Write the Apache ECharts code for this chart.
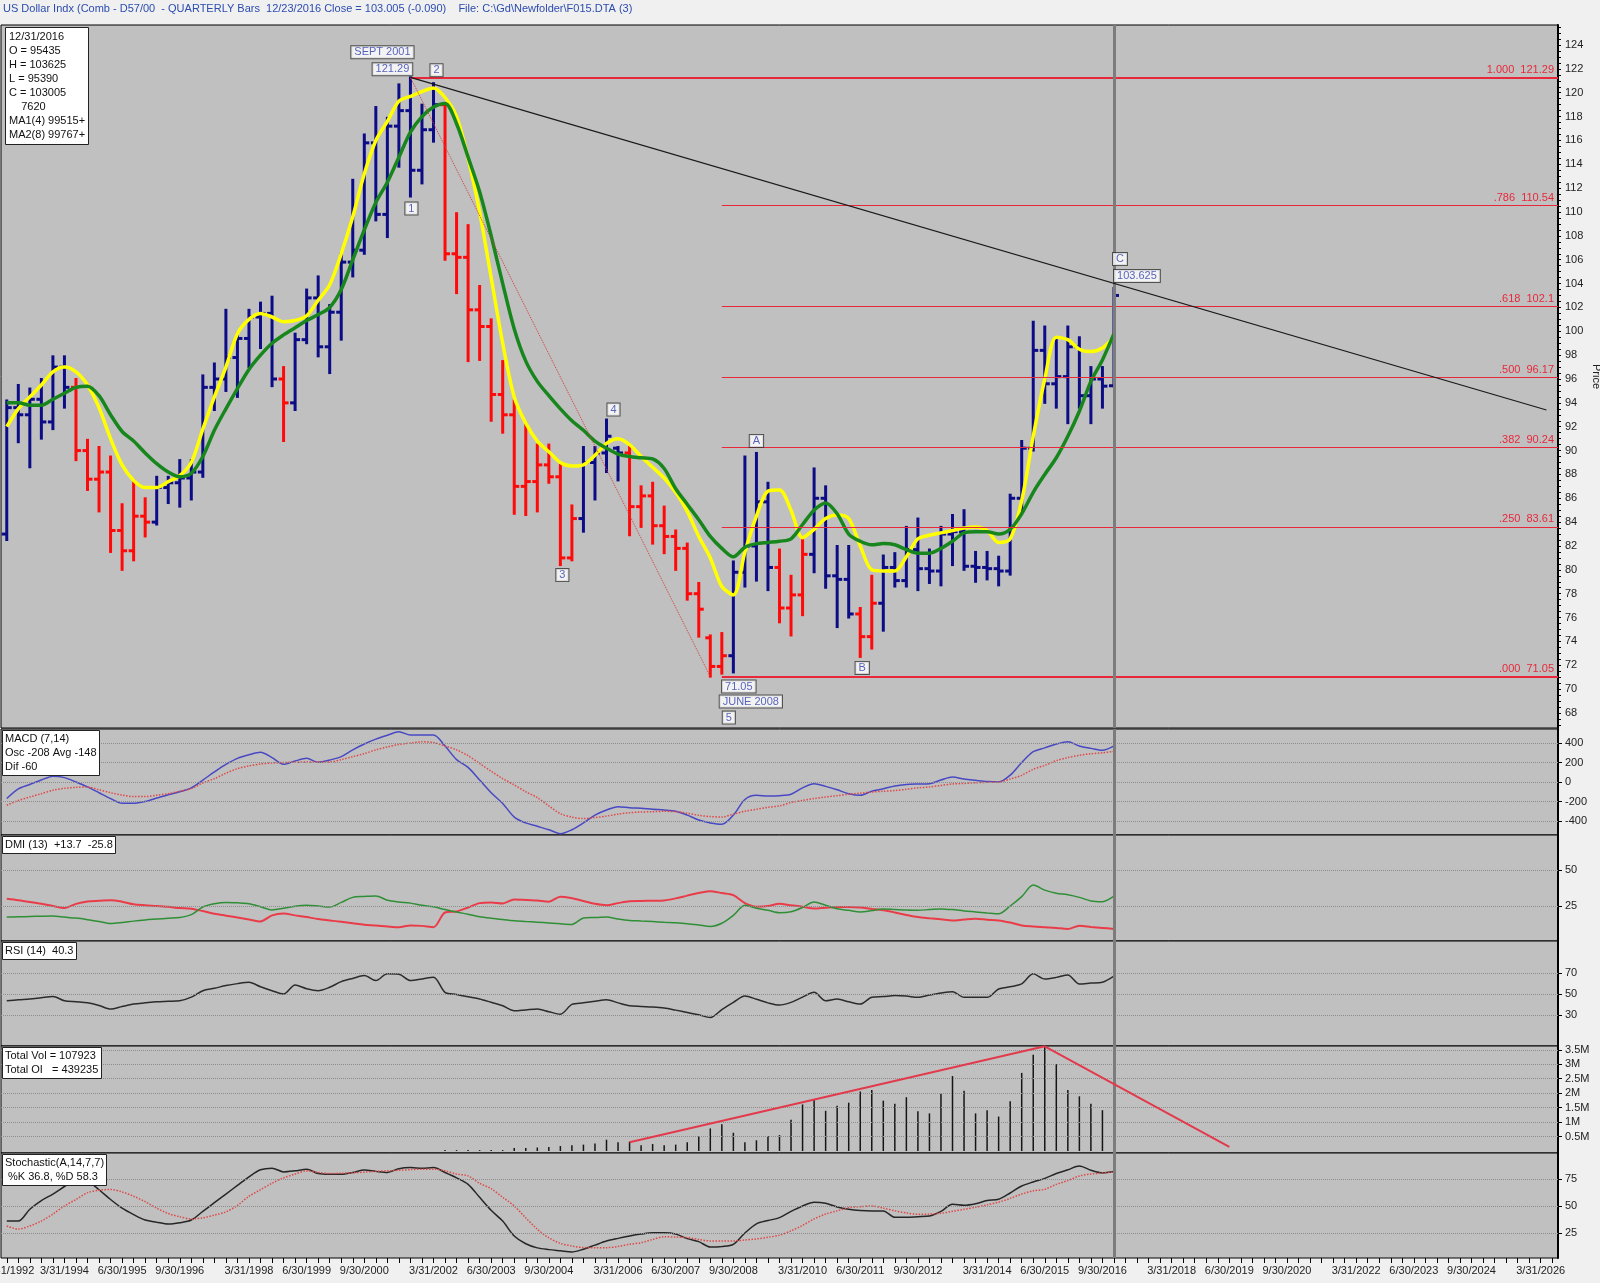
<!DOCTYPE html>
<html>
<head>
<meta charset="UTF-8">
<title>US Dollar Index - Quarterly Bars</title>
<script src="https://cdn.jsdelivr.net/npm/echarts@6.0.0/dist/echarts.min.js"></script>
<style>
  html, body { margin: 0; padding: 0; background: #f0f0f0; }
  #chart { width: 1600px; height: 1283px; }
</style>
</head>
<body>
<div id="chart"></div>
<script>
// quarter ends 12/31/1992 .. 6/30/2026 (axis domain)
var quarters = [];
(function () {
  var ends = ['3/31/', '6/30/', '9/30/', '12/31/'];
  for (var y = 1992; y <= 2026; y++) {
    for (var q = 0; q < 4; q++) {
      if (y === 1992 && q < 3) continue;
      if (y === 2026 && q > 1) continue;
      quarters.push(ends[q] + y);
    }
  }
})();

var xTickLabels = ['12/31/1992', '3/31/1994', '6/30/1995', '9/30/1996', '3/31/1998', '6/30/1999',
  '9/30/2000', '3/31/2002', '6/30/2003', '9/30/2004', '3/31/2006', '6/30/2007', '9/30/2008',
  '3/31/2010', '6/30/2011', '9/30/2012', '3/31/2014', '6/30/2015', '9/30/2016', '3/31/2018',
  '6/30/2019', '9/30/2020', '3/31/2022', '6/30/2023', '9/30/2024', '3/31/2026'];

// quarterly bars 12/31/1992 .. 12/31/2016
var opens = [
  83.0, 93.6, 93.0, 94.3, 92.4, 97.0, 95.3, 90.0, 87.6, 88.2,
  83.3, 81.6, 84.5, 84.0, 86.9, 87.3, 87.7, 88.2, 95.3, 96.0,
  97.8, 99.4, 101.2, 101.5, 96.0, 94.0, 99.3, 102.8, 98.7, 101.6,
  105.8, 106.8, 115.8, 109.8, 117.2, 118.5, 113.5, 116.9, 119.0, 106.5,
  106.2, 101.8, 100.4, 94.7, 93.0, 87.0, 87.4, 88.8, 87.8, 81.0,
  84.3, 89.0, 89.8, 90.2, 89.8, 85.3, 86.2, 83.7, 82.8, 81.8,
  78.0, 74.3, 71.9, 72.8, 79.8, 82.0, 85.7, 80.2, 76.8, 77.9,
  81.3, 86.0, 79.5, 79.2, 76.3, 74.4, 77.2, 80.2, 79.1, 81.7,
  80.1, 79.9, 83.0, 83.2, 80.3, 80.2, 80.1, 79.9, 86.0, 90.2,
  98.4, 95.6, 96.2, 98.7, 94.6, 96.0, 95.435];
var highs = [
  94.2, 95.5, 95.2, 96.0, 97.9, 97.9, 96.0, 90.9, 90.3, 89.5,
  85.5, 87.5, 86.0, 87.8, 87.8, 89.2, 89.2, 96.3, 97.3, 101.8,
  99.8, 101.8, 102.4, 102.9, 97.0, 99.8, 103.5, 104.6, 102.2, 106.5,
  112.7, 116.5, 118.8, 117.9, 120.7, 121.29, 119.0, 120.8, 119.1, 109.9,
  108.9, 103.8, 101.0, 97.5, 94.2, 92.3, 90.5, 90.5, 88.8, 85.4,
  90.3, 90.3, 92.6, 90.3, 90.3, 87.0, 87.3, 85.3, 83.3, 82.2,
  78.9, 74.5, 74.7, 80.7, 89.5, 89.8, 87.3, 81.7, 79.5, 82.5,
  88.5, 87.0, 82.0, 82.0, 76.8, 79.5, 81.2, 81.4, 83.6, 84.3,
  81.7, 83.6, 84.6, 85.0, 81.5, 81.5, 81.1, 86.3, 90.8, 100.8,
  100.4, 99.5, 100.4, 99.5, 97.0, 97.0, 103.625];
var lows = [
  82.5, 90.7, 88.6, 91.0, 91.8, 93.6, 89.2, 86.7, 84.9, 81.5,
  80.0, 80.8, 82.8, 83.8, 85.6, 85.3, 85.9, 87.8, 93.4, 95.0,
  94.5, 97.0, 98.6, 95.4, 90.8, 93.4, 99.0, 97.9, 96.5, 99.3,
  104.6, 106.5, 109.3, 107.9, 113.8, 111.3, 112.4, 115.9, 106.0, 103.2,
  97.5, 97.6, 92.5, 91.5, 84.7, 84.6, 84.9, 87.3, 80.4, 80.8,
  83.2, 85.9, 88.2, 87.5, 82.9, 83.6, 82.2, 81.4, 80.0, 77.5,
  74.4, 71.05, 71.3, 71.4, 78.6, 79.1, 78.3, 75.6, 74.5, 76.2,
  79.8, 78.5, 75.2, 76.0, 72.7, 73.4, 74.9, 78.6, 78.6, 78.3,
  78.9, 78.7, 80.4, 80.0, 79.0, 79.2, 78.7, 79.6, 84.9, 90.0,
  94.0, 93.6, 92.3, 93.6, 92.3, 93.6, 95.39];
var closes = [
  93.6, 93.0, 94.3, 92.4, 97.0, 95.3, 90.0, 87.6, 88.2, 83.3,
  81.6, 84.5, 84.0, 86.9, 87.3, 87.7, 88.2, 95.3, 96.0, 97.8,
  99.4, 101.2, 101.5, 96.0, 94.0, 99.3, 102.8, 98.7, 101.6, 105.8,
  106.8, 115.8, 109.8, 117.2, 118.5, 113.5, 116.9, 119.0, 106.5, 106.2,
  101.8, 100.4, 94.7, 93.0, 87.0, 87.4, 88.8, 87.8, 81.0, 84.3,
  89.0, 89.8, 91.2, 89.8, 85.3, 86.2, 83.7, 82.8, 81.8, 78.0,
  76.7, 71.9, 72.8, 79.8, 82.0, 85.7, 80.2, 76.8, 77.9, 81.3,
  86.0, 79.5, 79.2, 76.3, 74.4, 77.2, 80.2, 79.1, 81.7, 80.1,
  79.9, 83.0, 83.2, 80.3, 80.2, 80.1, 79.9, 86.0, 90.2, 98.4,
  95.6, 96.2, 98.7, 94.6, 96.0, 95.4, 103.005];
// paint-bar state: 1 = blue bar, -1 = red bar
var trend = [
  1, 1, 1, 1, 1, 1, -1, -1, -1, -1,
  -1, -1, -1, 1, 1, 1, 1, 1, 1, 1,
  1, 1, 1, 1, -1, 1, 1, 1, 1, 1,
  1, 1, 1, 1, 1, 1, 1, 1, -1, -1,
  -1, -1, -1, -1, -1, -1, -1, -1, -1, -1,
  1, 1, 1, 1, -1, -1, -1, -1, -1, -1,
  -1, -1, -1, 1, 1, 1, 1, -1, -1, -1,
  1, 1, 1, 1, -1, -1, 1, 1, 1, 1,
  1, 1, 1, 1, 1, 1, 1, 1, 1, 1,
  1, 1, 1, 1, 1, 1, 1];

var ma4 = [
  92.0, 93.5, 94.5, 95.5, 96.6, 97.0, 96.6, 95.5, 93.6, 91.0,
  88.8, 87.5, 86.9, 86.9, 87.4, 87.9, 89.0, 91.8, 94.5, 97.0,
  99.8, 101.0, 101.5, 101.2, 100.8, 100.9, 101.3, 102.6, 103.9, 106.5,
  109.6, 113.2, 116.0, 117.6, 119.3, 119.7, 120.1, 120.4, 119.6, 118.0,
  114.5, 110.0, 104.5, 99.0, 94.5, 92.3, 90.8, 89.9, 89.0, 88.7,
  88.8, 89.6, 90.6, 91.0, 90.5, 89.5, 88.6, 87.7, 86.5, 84.9,
  82.8, 81.0, 78.6, 77.9, 81.5, 84.5, 86.6, 86.7, 85.0, 82.7,
  83.4, 84.3, 84.6, 84.3, 82.0, 80.0, 79.9, 79.9, 81.1, 82.6,
  82.9, 83.1, 83.3, 83.5, 83.6, 83.3, 82.3, 82.6, 85.8, 91.2,
  96.0, 99.5, 99.3, 98.5, 98.3, 98.6, 99.5];
var ma8 = [
  94.0, 94.0, 93.8, 93.8, 94.3, 94.8, 95.3, 95.4, 94.6, 93.0,
  91.6, 90.8, 89.8, 88.9, 88.2, 87.8, 88.1, 89.5, 91.7, 93.5,
  95.2, 96.8, 98.0, 99.0, 99.7, 100.3, 100.9, 101.4, 102.0, 103.5,
  106.0, 108.5, 110.8, 112.5, 114.6, 116.7, 118.0, 118.8, 119.1, 117.4,
  114.6, 111.7, 108.0, 104.0, 100.2, 97.5, 95.8, 94.6, 93.5, 92.5,
  91.7, 90.8, 90.2, 89.7, 89.5, 89.4, 89.3, 88.5, 86.8, 85.5,
  84.2, 82.8, 81.8, 81.1, 81.9, 82.2, 82.3, 82.4, 82.6, 83.8,
  85.0, 85.6, 84.7, 83.0, 82.4, 82.1, 82.2, 82.1, 81.7, 81.4,
  81.4, 81.8, 82.4, 83.1, 83.2, 83.2, 83.0, 83.4, 84.7, 86.5,
  88.0, 89.4, 91.2, 93.3, 95.8, 97.6, 99.8];

var fibRatios = ['1.000', '.786', '.618', '.500', '.382', '.250', '.000'];
var fibLevels = [121.29, 110.54, 102.1, 96.17, 90.24, 83.61, 71.05];
var fibStart = [35, 62, 62, 62, 62, 62, 62];

// wave / trend anchors: [quarter index, price]
var resistanceLine = [[35, 121.29], [133.5, 93.4]];
var waveLine = [[35, 121.29], [61, 71.05]];

var notes = [
  { text: 'SEPT 2001', i: 35, v: 121.29 },
  { text: '121.29', i: 35, v: 121.29 },
  { text: '2', i: 37, v: 120.8 },
  { text: '1', i: 35, v: 111.3 },
  { text: '3', i: 48, v: 80.4 },
  { text: '4', i: 52, v: 92.6 },
  { text: 'A', i: 65, v: 89.8 },
  { text: 'B', i: 74, v: 72.7 },
  { text: '71.05', i: 62, v: 71.05 },
  { text: 'JUNE 2008', i: 62, v: 71.05 },
  { text: '5', i: 62, v: 71.05 },
  { text: 'C', i: 96, v: 103.625 },
  { text: '103.625', i: 96, v: 103.625 }
];

var macd = [
  -170, -70, -25, 20, 60, 45, 0, -50, -110, -170,
  -219, -219, -200, -165, -130, -100, -60, 20, 103, 180,
  243, 280, 305, 250, 181, 215, 243, 202, 225, 260,
  330, 390, 440, 480, 517, 482, 482, 482, 370, 230,
  150, 20, -110, -220, -360, -420, -455, -490, -530, -490,
  -420, -340, -287, -253, -265, -270, -280, -287, -300, -340,
  -390, -420, -434, -339, -180, -137, -144, -140, -125, -60,
  -17, -45, -80, -120, -137, -95, -70, -40, -25, -20,
  -17, 20, 51, 30, 17, 5, 0, 70, 200, 311,
  350, 390, 414, 370, 345, 325, 370];
var macdAvg = [
  -239, -190, -154, -120, -85, -65, -55, -51, -80, -110,
  -135, -150, -150, -135, -120, -95, -68, -10, 34, 90,
  137, 165, 185, 195, 200, 203, 205, 205, 205, 230,
  260, 291, 330, 360, 385, 400, 412, 405, 370, 330,
  270, 190, 110, 35, -30, -100, -160, -245, -325, -360,
  -376, -365, -350, -330, -315, -308, -305, -301, -305, -320,
  -342, -355, -359, -330, -300, -280, -260, -245, -210, -190,
  -170, -154, -140, -125, -115, -103, -95, -88, -75, -60,
  -51, -35, -20, -15, -8, -3, 0, 30, 68, 130,
  171, 220, 250, 274, 290, 300, 315];

var dmiRed = [
  30, 29, 27.8, 26.5, 25, 23.6, 26.5, 28.2, 28.6, 29,
  28, 26.2, 25.5, 25, 24.4, 23.6, 23.1, 21.5, 19.6, 18.3,
  17, 15.6, 14.3, 18.5, 19.8, 18.5, 17.3, 16, 15, 14,
  13, 12, 11.5, 10.8, 10.3, 11.5, 11.2, 10.3, 20.5, 21.2,
  24, 27, 27.5, 26.8, 29.5, 29.2, 28.8, 28, 31.5, 30.4,
  28.5, 26.5, 25.5, 27, 28.3, 28.5, 28.7, 28.9, 30.3, 32.2,
  34, 35.3, 34, 32.5, 27, 24.5, 25, 26.6, 25.5, 24.5,
  23.2, 23.8, 24.3, 24.3, 24, 23, 22, 20.5, 18.8, 17.3,
  16.5, 15.8, 15, 15.6, 16.1, 15.5, 15, 13.5, 11.5, 10.8,
  10.3, 9.8, 9.1, 11.3, 10.5, 9.8, 9.1];
var dmiGreen = [
  17.3, 17.5, 17.7, 17.9, 18, 17.3, 16.6, 15.5, 14.2, 12.8,
  13.5, 14.5, 15.3, 15.9, 16.5, 17, 19, 24.3, 26.5, 27.5,
  27.2, 26.6, 24.5, 22.3, 23.5, 24.8, 25.5, 25, 24.3, 27.5,
  31, 31.6, 32, 29, 27.8, 27, 25.5, 24.5, 22.5, 20.8,
  19.3, 17.6, 16.5, 15.6, 14.8, 14.3, 13.8, 13.2, 12.6, 12.2,
  16.6, 17, 17.3, 16, 15, 14.6, 14.2, 13.7, 13.3, 12.7,
  11.8, 10.8, 13, 18.5, 25.5, 23.5, 22, 20.3, 21, 24,
  27.8, 25.5, 23.1, 22, 20.9, 21.8, 23, 22.6, 22.2, 22,
  22.5, 23, 22.5, 21.6, 20.9, 20.2, 19.6, 25, 31.5, 39.5,
  36, 33.8, 32.8, 31, 28.5, 28, 31.8];

var rsi = [
  43.5, 44.5, 45.2, 46.5, 47.7, 43.5, 42.5, 41.5, 39, 35.5,
  38, 40.3, 41.5, 42.6, 43, 43.5, 47, 53.2, 55.5, 58.1,
  60, 61.3, 57, 53.2, 50, 58.7, 55, 53.2, 56.5, 61.9,
  65, 67.7, 62.9, 69.4, 69, 62.9, 64.5, 66.1, 51.6, 49.5,
  47.3, 45.2, 42, 38.7, 33.9, 34.7, 35.5, 33, 30.6, 40,
  41.5, 43, 44.5, 41.5, 38.7, 38, 37.5, 36.5, 34.5, 32.3,
  30, 27.4, 35, 41.9, 48, 45, 41.5, 39.4, 42, 47,
  51.6, 43.5, 45.2, 42.5, 40.3, 46.8, 47.5, 48.5, 48, 46.8,
  49, 51, 52.3, 46.8, 46.8, 46.8, 54.8, 57, 59.7, 69.4,
  64.5, 66, 68.4, 59.7, 60.5, 61.3, 67.1];

// volume in millions of contracts
var volume = [
  0, 0, 0, 0, 0, 0, 0, 0, 0, 0,
  0, 0, 0, 0, 0, 0, 0, 0, 0, 0,
  0, 0, 0, 0, 0, 0, 0, 0, 0, 0,
  0, 0, 0, 0, 0, 0, 0, 0, 0.03, 0.03,
  0.03, 0.03, 0.03, 0.03, 0.1, 0.1, 0.12, 0.14, 0.17, 0.2,
  0.22, 0.26, 0.39, 0.3, 0.32, 0.2, 0.24, 0.2, 0.22, 0.3,
  0.5, 0.78, 0.92, 0.63, 0.3, 0.37, 0.52, 0.55, 1.08, 1.61,
  1.78, 1.39, 1.56, 1.67, 2.06, 2.11, 1.74, 1.63, 1.86, 1.37,
  1.3, 1.98, 2.59, 2.08, 1.3, 1.41, 1.19, 1.72, 2.7, 3.33,
  3.62, 3.0, 2.11, 1.89, 1.63, 1.41, 1.2];
var volTrendUp = [[54, 0.3], [90, 3.62]];
var volTrendDown = [[90, 3.62], [106, 0.14]];

var stochK = [
  36.1, 36.1, 47, 55, 61, 68, 74.7, 73, 65, 56,
  48, 42, 37, 35, 33.3, 34.5, 37, 45, 53, 61,
  69, 77, 83.5, 85, 81.5, 82.5, 84, 80, 79.3, 79.3,
  81, 83.3, 82, 81, 84.5, 85.5, 84.8, 85.5, 81, 76,
  70, 58, 46, 36, 22.2, 15, 11.2, 9.6, 8.5, 7.4,
  10, 13.8, 17.5, 20, 22.2, 24, 25.3, 25.3, 24, 19.8,
  17, 12, 12.5, 14.5, 25, 33.5, 36.5, 39.2, 45, 50,
  53.5, 52.5, 49, 46.9, 45.8, 45.4, 45.4, 39.5, 39.5, 40.1,
  40.7, 45, 51.5, 50.6, 52, 55, 56.2, 62, 68.5, 72.2,
  75.5, 80, 83.5, 87, 83, 80.5, 81.8];
var stochD = [
  31.5, 28.6, 31.5, 36, 42.5, 50, 56, 62.3, 64.5, 65.3,
  63, 59, 54, 48, 43, 40, 38, 39, 41.5, 44.5,
  50.5, 59, 65, 71, 76, 79.5, 82.4, 81, 80, 80.3,
  80.7, 81.3, 82, 82.5, 83, 83.6, 84, 84, 82.5, 79.5,
  77.8, 71, 66, 58, 50, 39, 28.5, 20.5, 15.4, 13,
  11.5, 11.4, 11.4, 12.5, 14.5, 16, 19, 21.5, 21.2, 20.7,
  19, 17.6, 17.6, 17.6, 18.5, 19.5, 21, 23, 27, 32,
  38, 42.5, 45.5, 48.5, 49.3, 50, 48, 45.5, 43.5, 42.3,
  42.5, 43.2, 45, 46.9, 48.8, 51, 53.5, 57, 61, 64,
  65.4, 70, 73.5, 77.8, 79.5, 80.5, 81.5];

var lastBar = 96;

var priceTicks = [];
for (var p = 68; p <= 124; p += 2) priceTicks.push(p);
var priceTickMarks = [];
for (var m = 67; m <= 125.5; m += 0.5) priceTickMarks.push(m);
var macdTicks = [-400, -200, 0, 200, 400];
var dmiTicks = [25, 50];
var rsiTicks = [30, 50, 70];
var volTicks = [0.5, 1, 1.5, 2, 2.5, 3, 3.5];
var stochTicks = [25, 50, 75];

// ---------------------------------------------------------------
var FONT = '"Liberation Sans", Arial, sans-serif';
var BLUE = '#0c0c86';
var RED = '#ff0a0a';
var BG = '#c0c0c0';
var LEFT = 1, RIGHT = 42;

var panels = [
  { top: 25, height: 703, min: 66.74, max: 125.68, ticks: priceTicks, marks: priceTickMarks, tickLen: 3 },
  { top: 729, height: 106, min: -544, max: 544, ticks: macdTicks },
  { top: 835, height: 106, min: 0.7, max: 74.3, ticks: dmiTicks },
  { top: 941, height: 105, min: 0, max: 101, ticks: rsiTicks },
  { top: 1046, height: 107, min: -0.07, max: 3.63, ticks: volTicks, fmt: function (v) { return v + 'M'; } },
  { top: 1153, height: 105, min: 1.85, max: 99, ticks: stochTicks }
];

function pairs(arr) { return arr.map(function (v, i) { return [i, v]; }); }

var grids = [], xAxes = [], yAxes = [];
panels.forEach(function (p, k) {
  grids.push({
    left: LEFT, right: RIGHT, top: p.top, height: p.height,
    containLabel: false, outerBoundsMode: 'none',
    show: true, backgroundColor: BG, borderColor: '#000', borderWidth: 1
  });
  xAxes.push({
    type: 'value', gridIndex: k, min: -0.5, max: quarters.length - 0.5,
    show: false, splitLine: { show: false }
  });
  yAxes.push({
    type: 'value', gridIndex: k, position: 'right', min: p.min, max: p.max,
    axisLine: { show: true, onZero: false, lineStyle: { color: '#000', width: 2 } },
    axisTick: { show: true, length: p.tickLen || 4, customValues: p.marks || p.ticks, lineStyle: { color: '#000' } },
    axisLabel: {
      customValues: p.ticks, color: '#222', fontSize: 11, fontFamily: FONT, margin: 7,
      formatter: p.fmt || function (v) { return String(v); }
    },
    splitLine: { show: false }
  });
});
yAxes[0].name = 'Price';
yAxes[0].nameLocation = 'middle';
yAxes[0].nameRotate = -90;
yAxes[0].nameGap = 33;
yAxes[0].nameMoveOverlap = false;
yAxes[0].nameTextStyle = { color: '#222', fontSize: 11, fontFamily: FONT };

// date axis under the bottom panel
var labelSet = {};
xTickLabels.forEach(function (t) { labelSet[quarters.indexOf(t)] = true; });
xAxes.push({
  type: 'category', gridIndex: 5, data: quarters, boundaryGap: true, position: 'bottom',
  axisLine: { show: false },
  axisTick: { show: true, interval: 0, alignWithLabel: true, length: 5, lineStyle: { color: '#000' } },
  axisLabel: {
    interval: function (idx) { return !!labelSet[idx]; },
    color: '#222', fontSize: 11, fontFamily: FONT, margin: 7
  },
  splitLine: { show: false }
});

function guides(k, levels) {
  var data = levels.map(function (v) { return { yAxis: v }; });
  data.push({ xAxis: lastBar, lineStyle: { color: '#7c7c7c', width: 3, type: 'solid' } });
  return {
    type: 'line', xAxisIndex: k, yAxisIndex: k, data: [], z: 6, silent: true,
    markLine: {
      silent: true, symbol: ['none', 'none'], label: { show: false }, animation: false,
      lineStyle: { type: 'dotted', color: '#8d8d8d', width: 1 },
      data: data
    }
  };
}

function lineSeries(k, arr, color, width, dashed, z) {
  return {
    type: 'line', xAxisIndex: k, yAxisIndex: k, data: pairs(arr), symbol: 'none',
    smooth: 0.3, z: z || 3, silent: true,
    lineStyle: { color: color, width: width, type: dashed ? 'dotted' : 'solid' }
  };
}

function drawBar(params, api) {
  var i = api.value(0);
  var x = api.coord([i, api.value(2)])[0];
  var yo = api.coord([i, api.value(1)])[1];
  var yh = api.coord([i, api.value(2)])[1];
  var yl = api.coord([i, api.value(3)])[1];
  var yc = api.coord([i, api.value(4)])[1];
  var st = { stroke: api.value(5) > 0 ? BLUE : RED, lineWidth: 3 };
  return {
    type: 'group', children: [
      { type: 'line', shape: { x1: x, y1: yh - 1, x2: x, y2: yl + 1 }, style: st },
      { type: 'line', shape: { x1: x - 5, y1: yo, x2: x, y2: yo }, style: st },
      { type: 'line', shape: { x1: x, y1: yc, x2: x + 5, y2: yc }, style: st }
    ]
  };
}

var barRows = opens.map(function (o, i) { return [i, o, highs[i], lows[i], closes[i], trend[i]]; });

var fibLines = fibLevels.map(function (v, n) {
  var thick = n === 0 || n === fibLevels.length - 1;
  return [
    { coord: [fibStart[n], v], lineStyle: { width: thick ? 2 : 1 } },
    {
      coord: [quarters.length - 0.5, v],
      label: {
        show: true, position: 'insideEndTop', distance: [4, 2],
        formatter: fibRatios[n] + '  ' + v, color: '#e8283a', fontSize: 11, fontFamily: FONT
      }
    }
  ];
});

// note box placement (pixel offsets from their anchor)
var noteOffsets = {
  'SEPT 2001': [-28, -25], '121.29': [-18, -8], '2': [3, -13], '1': [1, 12],
  '3': [2, 10], '4': [7, -10], 'A': [0, -12], 'B': [2, 11],
  '71.05': [17, 10], 'JUNE 2008': [29, 25], '5': [7, 41],
  'C': [6, -29], '103.625': [23, -12]
};
var noteData = notes.map(function (n) {
  return { value: [n.i, n.v, n.text], label: { offset: noteOffsets[n.text] } };
});

function box(text, left, top, extra) {
  var t = {
    text: text, left: left, top: top, padding: [2, 3, 2, 3],
    backgroundColor: '#ffffff', borderColor: '#222', borderWidth: 1,
    textStyle: { color: '#111', fontSize: 11, fontWeight: 'normal', fontFamily: FONT, lineHeight: 14 }
  };
  return Object.assign(t, extra || {});
}

var series = [
  {
    type: 'custom', name: 'bars', xAxisIndex: 0, yAxisIndex: 0, data: barRows, z: 2,
    renderItem: drawBar, clip: true, silent: true,
    encode: { x: 0, y: [1, 2, 3, 4] }
  },
  lineSeries(0, ma4, '#ffff00', 3.5, false, 3),
  lineSeries(0, ma8, '#17861d', 3.5, false, 4),
  {
    type: 'line', xAxisIndex: 0, yAxisIndex: 0, data: waveLine, symbol: 'none', z: 5, silent: true,
    lineStyle: { color: '#d23c3c', width: 1, type: 'dotted' }
  },
  {
    type: 'line', xAxisIndex: 0, yAxisIndex: 0, data: resistanceLine, symbol: 'none', z: 5, silent: true,
    lineStyle: { color: '#1a1a1a', width: 1.2 }
  },
  {
    type: 'line', xAxisIndex: 0, yAxisIndex: 0, data: [], z: 5, silent: true,
    markLine: {
      silent: true, symbol: ['none', 'none'], animation: false,
      lineStyle: { color: '#e8283a', type: 'solid', width: 1 },
      label: { show: false },
      data: fibLines
    }
  },
  {
    type: 'scatter', xAxisIndex: 0, yAxisIndex: 0, data: noteData, symbolSize: 1, z: 8, silent: true,
    itemStyle: { color: 'rgba(0,0,0,0)' },
    label: {
      show: true, position: 'inside', formatter: function (p) { return p.value[2]; },
      color: '#2f3fae', fontSize: 11, fontFamily: FONT,
      backgroundColor: '#ffffff', borderColor: '#333', borderWidth: 1, padding: [1, 3, 0, 3]
    }
  },
  guides(0, []),

  lineSeries(1, macd, '#4848c4', 1.5, false),
  lineSeries(1, macdAvg, '#e04848', 1.5, true),
  guides(1, macdTicks),

  lineSeries(2, dmiRed, '#ea3c48', 2, false),
  lineSeries(2, dmiGreen, '#2f8f36', 1.5, false),
  guides(2, dmiTicks),

  lineSeries(3, rsi, '#2b2b2b', 1.5, false),
  guides(3, rsiTicks),

  {
    type: 'bar', xAxisIndex: 4, yAxisIndex: 4, data: pairs(volume), barWidth: 1.5, z: 3, silent: true,
    itemStyle: { color: '#151515' }
  },
  {
    type: 'line', xAxisIndex: 4, yAxisIndex: 4, data: volTrendUp, symbol: 'none', z: 5, silent: true,
    lineStyle: { color: '#e23a4c', width: 2 }
  },
  {
    type: 'line', xAxisIndex: 4, yAxisIndex: 4, data: volTrendDown, symbol: 'none', z: 5, silent: true,
    lineStyle: { color: '#e23a4c', width: 2 }
  },
  guides(4, volTicks),

  lineSeries(5, stochK, '#262626', 1.5, false),
  lineSeries(5, stochD, '#e04848', 1.5, true),
  guides(5, stochTicks)
];

var header = 'US Dollar Indx (Comb - D57/00  - QUARTERLY Bars  12/23/2016 Close = 103.005 (-0.090)    File: C:\\Gd\\Newfolder\\F015.DTA (3)';

var option = {
  backgroundColor: '#f0f0f0',
  animation: false,
  textStyle: { fontFamily: FONT },
  title: [
    {
      text: header, left: 3, top: 3, padding: 0,
      textStyle: { color: '#2c4cb0', fontSize: 11, fontWeight: 'normal', fontFamily: FONT }
    },
    box('12/31/2016\nO = 95435\nH = 103625\nL = 95390\nC = 103005\n    7620\nMA1(4) 99515+\nMA2(8) 99767+', 5, 27,
      { padding: [3, 4, 3, 4] }),
    box('MACD (7,14)\nOsc -208 Avg -148\nDif -60', 2, 730),
    box('DMI (13)  +13.7  -25.8', 2, 836),
    box('RSI (14)  40.3', 2, 942),
    box('Total Vol = 107923\nTotal OI   = 439235', 2, 1047),
    box('Stochastic(A,14,7,7)\n %K 36.8, %D 58.3', 2, 1154)
  ],
  grid: grids,
  xAxis: xAxes,
  yAxis: yAxes,
  series: series
};

var chart = echarts.init(document.getElementById('chart'), null, { renderer: 'canvas' });
chart.setOption(option);
</script>
</body>
</html>
